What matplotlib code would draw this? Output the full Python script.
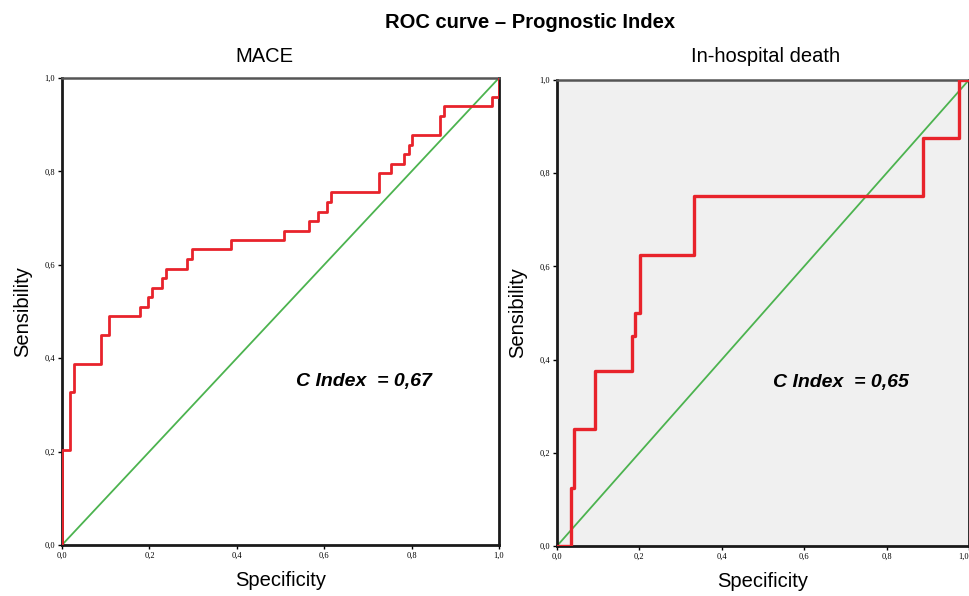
import numpy as np
import matplotlib.pyplot as plt

# --- données ---
mace_fpr = [0, 0, 0.019, 0.028, 0.089, 0.108, 0.178, 0.196, 0.207, 0.228, 0.239, 0.286, 0.297, 0.387,
            0.507, 0.565, 0.587, 0.606, 0.615, 0.725, 0.754, 0.783, 0.794, 0.80, 0.865, 0.874, 0.983, 1.0]
mace_tpr = [0, 0.204, 0.327, 0.388, 0.449, 0.490, 0.510, 0.531, 0.551, 0.571, 0.592, 0.612, 0.633, 0.653,
            0.673, 0.694, 0.714, 0.735, 0.755, 0.796, 0.816, 0.837, 0.857, 0.878, 0.918, 0.939, 0.959, 1.0]

death_fpr = [0, 0.034, 0.042, 0.092, 0.183, 0.19, 0.201, 0.333, 0.889, 0.975, 1.0]
death_tpr = [0, 0.125, 0.25, 0.375, 0.45, 0.5, 0.625, 0.75, 0.875, 1.0, 1.0]

panels = ["MACE", "In-hospital death"]
c_index = ["0,67", "0,65"]
ticks = [0, 0.2, 0.4, 0.6, 0.8, 1.0]
tick_labels = ["0,0", "0,2", "0,4", "0,6", "0,8", "1,0"]

RED = "#e8232b"
GREEN = "#4cb34f"

plt.rcParams['font.family'] = ['Liberation Sans', 'DejaVu Sans']

fig = plt.figure(figsize=(9.7, 5.96), dpi=100)
ax1 = fig.add_axes([0.0639, 0.0856, 0.4505, 0.7836])
ax2 = fig.add_axes([0.5742, 0.0839, 0.4247, 0.782])

fig.text(0.546, 0.963, "ROC curve \u2013 Prognostic Index", ha='center', va='center',
         fontsize=14.5, fontweight='bold')

data = [(mace_fpr, mace_tpr), (death_fpr, death_tpr)]
for i, ax in enumerate([ax1, ax2]):
    fpr, tpr = data[i]
    ax.plot([0, 1], [0, 1], color=GREEN, lw=1.3, zorder=2)
    ax.step(fpr, tpr, where='post', color=RED, lw=2.0 if i == 0 else 2.4, zorder=3)
    ax.set_xlim(0, 1)
    ax.set_ylim(0, 1)
    ax.set_xticks(ticks)
    ax.set_yticks(ticks)
    ax.set_xticklabels(tick_labels, fontsize=6, family='Liberation Serif')
    ax.set_yticklabels(tick_labels, fontsize=6, family='Liberation Serif')
    ax.tick_params(length=3, width=1, pad=2)
    for s in ['left', 'bottom', 'right']:
        ax.spines[s].set_linewidth(2)
        ax.spines[s].set_color('#1a1a1a')
    ax.spines['top'].set_linewidth(1.8)
    ax.spines['top'].set_color('#555555')
    ax.set_xlabel("Specificity", fontsize=14.5, labelpad=8)
    ax.set_ylabel("Sensibility", fontsize=14.5, labelpad=9)
    ax.text(0.69, 0.35, "C Index  = " + c_index[i], ha='center', va='center',
            fontsize=14, fontweight='bold', style='italic')

# sous-titres alignés sur la même hauteur
fig.text(0.273, 0.906, panels[0], ha='center', va='center', fontsize=14.5)
fig.text(0.789, 0.906, panels[1], ha='center', va='center', fontsize=14.5)

ax2.set_facecolor('#f0f0f0')
# dernier label collé au bord droit
ax2.get_xticklabels()[-1].set_ha('right')

fig.savefig("out.png", dpi=100)
